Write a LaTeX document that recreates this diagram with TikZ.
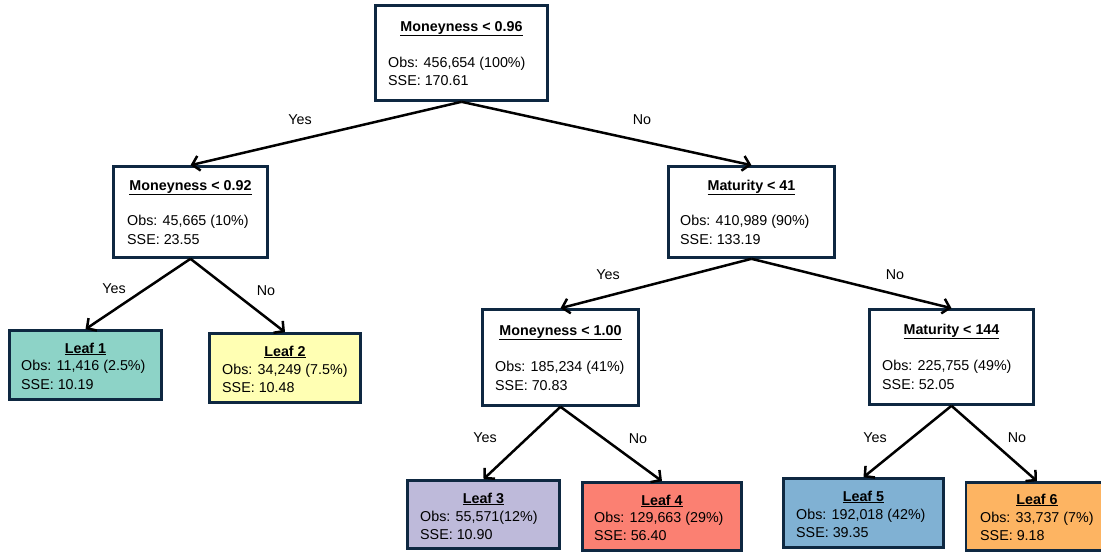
\documentclass[tikz,border=0pt]{standalone}
\usepackage{fontspec}
\setmainfont{Liberation Sans}
\usetikzlibrary{arrows.meta}
\definecolor{edgecol}{HTML}{0E2841}
\definecolor{leafA}{HTML}{8DD3C7}
\definecolor{leafB}{HTML}{FFFFB3}
\definecolor{leafC}{HTML}{BEBADA}
\definecolor{leafD}{HTML}{FB8072}
\definecolor{leafE}{HTML}{80B1D3}
\definecolor{leafF}{HTML}{FDB462}
\begin{document}
\begin{tikzpicture}[x=1pt,y=-1pt,
  font=\fontsize{14.3}{18.5}\selectfont,
  box/.style={draw=edgecol, line width=2.6pt, inner sep=0pt},
  ttl/.style={font=\bfseries\fontsize{14.3}{18.5}\selectfont, inner sep=0pt, anchor=center},
  body/.style={align=left, inner sep=0pt, anchor=west},
  lbl/.style={inner sep=0pt, anchor=center},
  arr/.style={line width=2.5pt, -{Straight Barb[length=7pt,width=15pt]}}]
\clip (0,0) rectangle (1101,553);
\fill[white] (0,0) rectangle (1101,553);

% internal nodes
\node[box, fill=white, minimum width=172pt, minimum height=95pt] (root) at (461.5,53) {};
\node[ttl] (roott) at (461.5,28.5) {\underline{Moneyness < 0.96}};
\node[body] (rootb) at (388,71.5) {Obs: 456,654 (100\%)\\SSE: 170.61};

\node[box, fill=white, minimum width=154pt, minimum height=91pt] (n1) at (190.5,212) {};
\node[ttl] (n1t) at (190.5,187.5) {\underline{Moneyness < 0.92}};
\node[body] (n1b) at (127,230) {Obs: 45,665 (10\%)\\SSE: 23.55};

\node[box, fill=white, minimum width=166pt, minimum height=91pt] (n2) at (751.5,212) {};
\node[ttl] (n2t) at (751.5,187.5) {\underline{Maturity < 41}};
\node[body] (n2b) at (680,230) {Obs: 410,989 (90\%)\\SSE: 133.19};

\node[box, fill=white, minimum width=156pt, minimum height=96pt] (n3) at (560.5,357.5) {};
\node[ttl] (n3t) at (560.5,332.5) {\underline{Moneyness < 1.00}};
\node[body] (n3b) at (495,376) {Obs: 185,234 (41\%)\\SSE: 70.83};

\node[box, fill=white, minimum width=164pt, minimum height=95pt] (n4) at (951.5,357) {};
\node[ttl] (n4t) at (951.5,331.5) {\underline{Maturity < 144}};
\node[body] (n4b) at (882,375) {Obs: 225,755 (49\%)\\SSE: 52.05};

% leaves
\node[box, fill=leafA, minimum width=152pt, minimum height=69pt] (l1) at (85.5,365) {};
\node[ttl] (l1t) at (85.5,349) {\underline{Leaf 1}};
\node[body] (l1b) at (21,375) {Obs: 11,416 (2.5\%)\\SSE: 10.19};

\node[box, fill=leafB, minimum width=151pt, minimum height=69pt] (l2) at (285,368) {};
\node[ttl] (l2t) at (285,352) {\underline{Leaf 2}};
\node[body] (l2b) at (222,378.5) {Obs: 34,249 (7.5\%)\\SSE: 10.48};

\node[box, fill=leafC, minimum width=152pt, minimum height=68pt] (l3) at (483.5,514.5) {};
\node[ttl] (l3t) at (483.5,499) {\underline{Leaf 3}};
\node[body] (l3b) at (420,525.5) {Obs: 55,571(12\%)\\SSE: 10.90};

\node[box, fill=leafD, minimum width=159pt, minimum height=68pt] (l4) at (662,516.5) {};
\node[ttl] (l4t) at (662,501) {\underline{Leaf 4}};
\node[body] (l4b) at (594,526.5) {Obs: 129,663 (29\%)\\SSE: 56.40};

\node[box, fill=leafE, minimum width=160pt, minimum height=69pt] (l5) at (863.5,513) {};
\node[ttl] (l5t) at (863.5,497) {\underline{Leaf 5}};
\node[body] (l5b) at (796,523.5) {Obs: 192,018 (42\%)\\SSE: 39.35};

\node[box, fill=leafF, minimum width=142pt, minimum height=68pt] (l6) at (1037,516.5) {};
\node[ttl] (l6t) at (1037,500) {\underline{Leaf 6}};
\node[body] (l6b) at (980,526.5) {Obs: 33,737 (7\%)\\SSE: 9.18};

% connectors
\draw[arr] (root.south) -- (n1.north);
\draw[arr] (root.south) -- (n2.north);
\draw[arr] (n1.south) -- (l1.north);
\draw[arr] (n1.south) -- (l2.north);
\draw[arr] (n2.south) -- (n3.north);
\draw[arr] (n2.south) -- (n4.north);
\draw[arr] (n3.south) -- (l3.north);
\draw[arr] (n3.south) -- (l4.north);
\draw[arr] (n4.south) -- (l5.north);
\draw[arr] (n4.south) -- (l6.north);

% labels
\node[lbl] (y1) at (300,120) {Yes};
\node[lbl] (no1) at (642,120) {No};
\node[lbl] (y2) at (114,289) {Yes};
\node[lbl] (no2) at (266,291) {No};
\node[lbl] (y3) at (608,275) {Yes};
\node[lbl] (no3) at (895,275) {No};
\node[lbl] (y4) at (485,438) {Yes};
\node[lbl] (no4) at (638,439) {No};
\node[lbl] (y5) at (875,438) {Yes};
\node[lbl] (no5) at (1017,438) {No};
\end{tikzpicture}
\end{document}
